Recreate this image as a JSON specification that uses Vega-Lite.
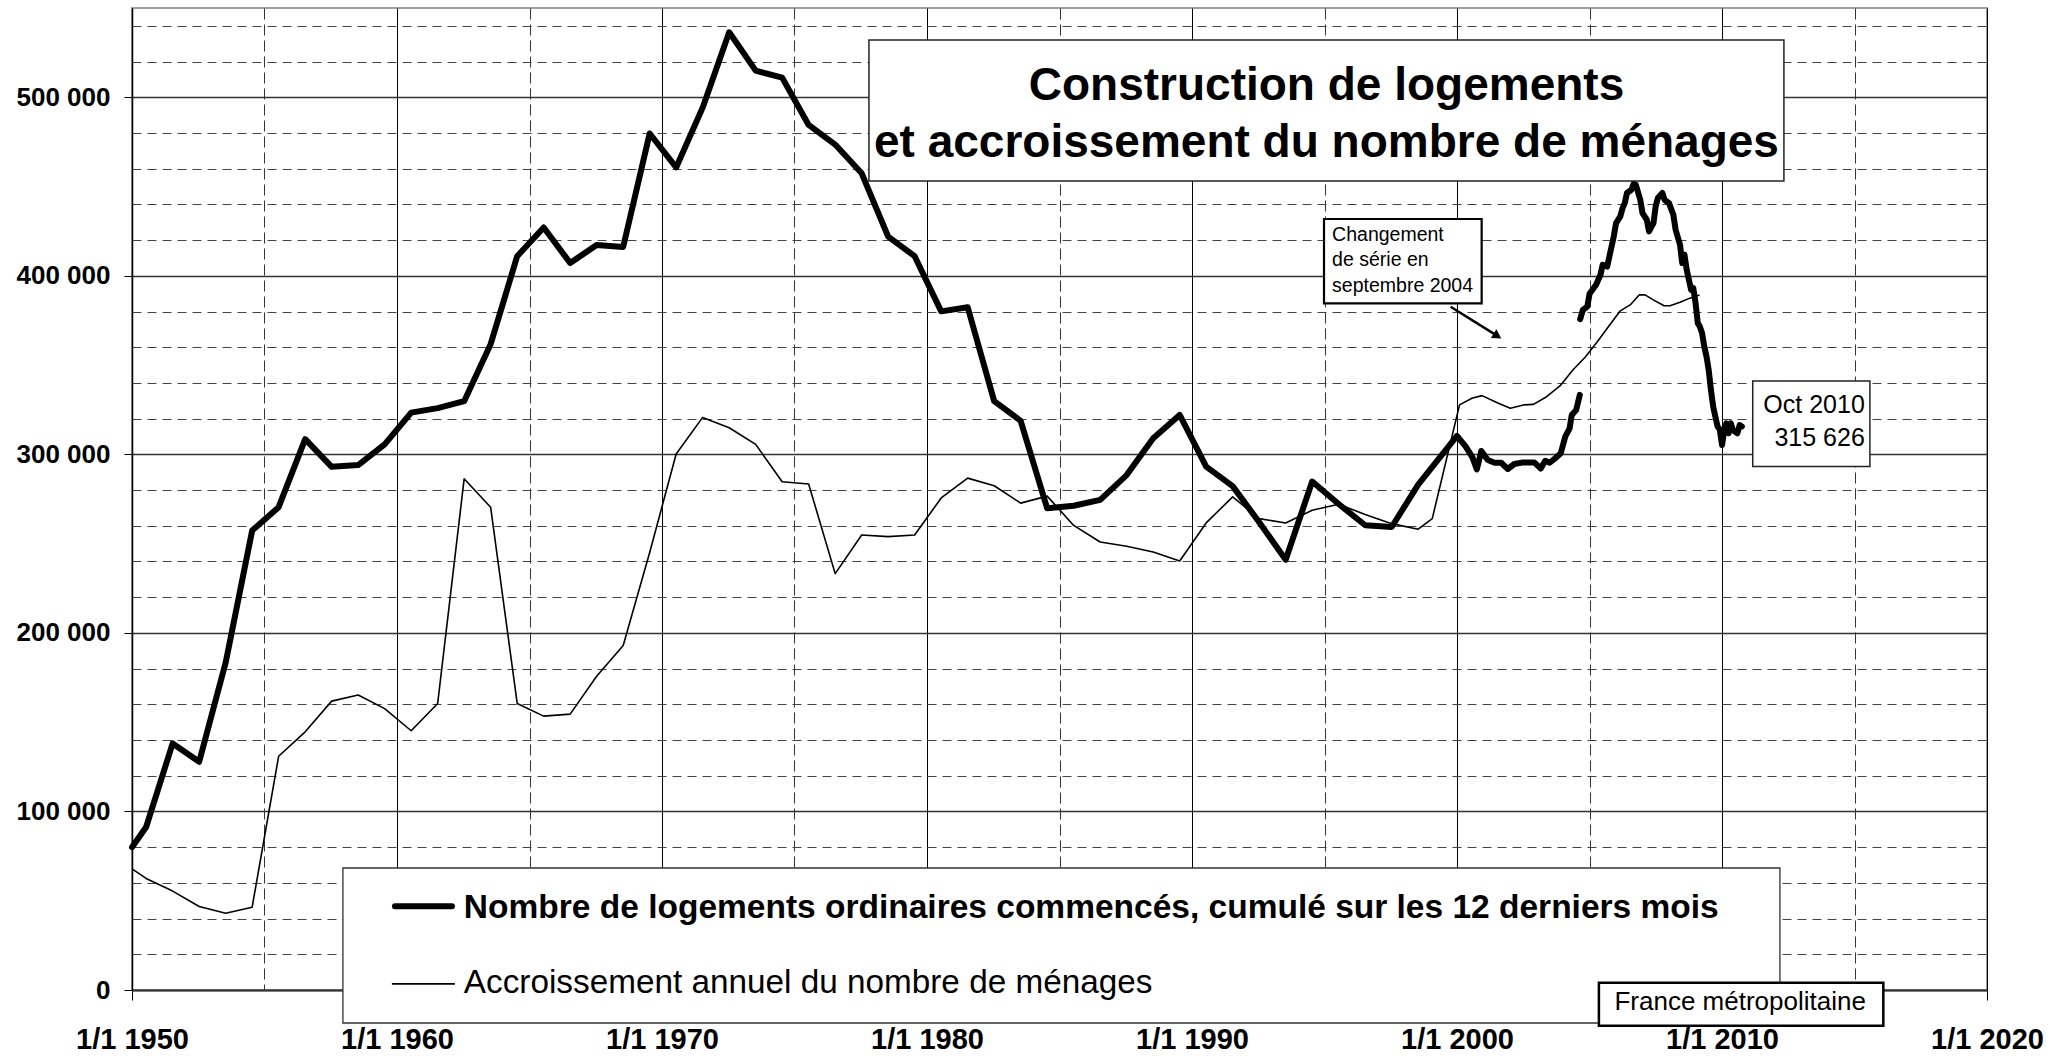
{
  "$schema": "https://vega.github.io/schema/vega-lite/v6.json",
  "width": 1855,
  "height": 982,
  "autosize": {"type": "none"},
  "padding": {"left": 132, "top": 8, "right": 80, "bottom": 66},
  "background": "white",
  "config": {
    "font": "Liberation Sans",
    "view": {"stroke": "#a0a0a0", "strokeWidth": 2},
    "axis": {"title": null, "labelOverlap": false, "labelFlush": false, "labelBound": false}
  },
  "datasets": {
    "menages": [
      {"date": "1950-01-01", "valeur": 67800},
      {"date": "1950-07-15", "valeur": 62500},
      {"date": "1951-07-15", "valeur": 55400},
      {"date": "1952-07-15", "valeur": 46800},
      {"date": "1953-07-15", "valeur": 43000},
      {"date": "1954-07-15", "valeur": 46400},
      {"date": "1955-07-15", "valeur": 130900},
      {"date": "1956-07-15", "valeur": 144600},
      {"date": "1957-07-15", "valeur": 161800},
      {"date": "1958-07-15", "valeur": 165200},
      {"date": "1959-07-15", "valeur": 157600},
      {"date": "1960-07-15", "valeur": 145200},
      {"date": "1961-07-15", "valeur": 160500},
      {"date": "1962-07-15", "valeur": 286300},
      {"date": "1963-07-15", "valeur": 270400},
      {"date": "1964-07-15", "valeur": 160500},
      {"date": "1965-07-15", "valeur": 153400},
      {"date": "1966-07-15", "valeur": 154500},
      {"date": "1967-07-15", "valeur": 175700},
      {"date": "1968-07-15", "valeur": 192900},
      {"date": "1969-07-15", "valeur": 245000},
      {"date": "1970-07-15", "valeur": 300200},
      {"date": "1971-07-15", "valeur": 320700},
      {"date": "1972-07-15", "valeur": 314900},
      {"date": "1973-07-15", "valeur": 305600},
      {"date": "1974-07-15", "valeur": 284700},
      {"date": "1975-07-15", "valeur": 283400},
      {"date": "1976-07-15", "valeur": 233200},
      {"date": "1977-07-15", "valeur": 254800},
      {"date": "1978-07-15", "valeur": 253900},
      {"date": "1979-07-15", "valeur": 254800},
      {"date": "1980-07-15", "valeur": 275600},
      {"date": "1981-07-15", "valeur": 286700},
      {"date": "1982-07-15", "valeur": 282400},
      {"date": "1983-07-15", "valeur": 272700},
      {"date": "1984-07-15", "valeur": 276600},
      {"date": "1985-07-15", "valeur": 260200},
      {"date": "1986-07-15", "valeur": 250900},
      {"date": "1987-07-15", "valeur": 248500},
      {"date": "1988-07-15", "valeur": 245300},
      {"date": "1989-07-15", "valeur": 240300},
      {"date": "1990-07-15", "valeur": 261600},
      {"date": "1991-07-15", "valeur": 276200},
      {"date": "1992-07-15", "valeur": 264000},
      {"date": "1993-07-15", "valeur": 261600},
      {"date": "1994-07-15", "valeur": 268700},
      {"date": "1995-07-15", "valeur": 272100},
      {"date": "1996-07-15", "valeur": 266300},
      {"date": "1997-07-15", "valeur": 261200},
      {"date": "1998-07-15", "valeur": 258100},
      {"date": "1999-01-25", "valeur": 264000},
      {"date": "2000-02-05", "valeur": 327700},
      {"date": "2000-07-25", "valeur": 331400},
      {"date": "2000-12-10", "valeur": 332900},
      {"date": "2001-07-25", "valeur": 328600},
      {"date": "2002-01-05", "valeur": 325800},
      {"date": "2002-07-05", "valeur": 327700},
      {"date": "2002-11-20", "valeur": 328000},
      {"date": "2003-05-20", "valeur": 332300},
      {"date": "2003-11-20", "valeur": 338300},
      {"date": "2004-05-25", "valeur": 347700},
      {"date": "2004-11-01", "valeur": 354400},
      {"date": "2005-04-10", "valeur": 362600},
      {"date": "2005-09-20", "valeur": 371600},
      {"date": "2006-03-01", "valeur": 380400},
      {"date": "2006-07-15", "valeur": 383700},
      {"date": "2006-11-15", "valeur": 389300},
      {"date": "2007-02-05", "valeur": 389300},
      {"date": "2007-05-30", "valeur": 386500},
      {"date": "2007-10-25", "valeur": 383200},
      {"date": "2008-01-15", "valeur": 383200},
      {"date": "2008-06-01", "valeur": 385200},
      {"date": "2008-10-15", "valeur": 387500},
      {"date": "2009-02-25", "valeur": 389300}
    ],
    "logements": [
      {"date": "1950-01-01", "serie": "ancienne", "valeur": 80000},
      {"date": "1950-07-15", "serie": "ancienne", "valeur": 91300},
      {"date": "1951-07-15", "serie": "ancienne", "valeur": 138100},
      {"date": "1952-07-15", "serie": "ancienne", "valeur": 127800},
      {"date": "1953-07-15", "serie": "ancienne", "valeur": 183400},
      {"date": "1954-07-15", "serie": "ancienne", "valeur": 257300},
      {"date": "1955-07-15", "serie": "ancienne", "valeur": 270400},
      {"date": "1956-07-15", "serie": "ancienne", "valeur": 308500},
      {"date": "1957-07-15", "serie": "ancienne", "valeur": 293000},
      {"date": "1958-07-15", "serie": "ancienne", "valeur": 294000},
      {"date": "1959-07-15", "serie": "ancienne", "valeur": 305600},
      {"date": "1960-07-15", "serie": "ancienne", "valeur": 323400},
      {"date": "1961-07-15", "serie": "ancienne", "valeur": 325900},
      {"date": "1962-07-15", "serie": "ancienne", "valeur": 329800},
      {"date": "1963-07-15", "serie": "ancienne", "valeur": 361700},
      {"date": "1964-07-15", "serie": "ancienne", "valeur": 411000},
      {"date": "1965-07-15", "serie": "ancienne", "valeur": 427100},
      {"date": "1966-07-15", "serie": "ancienne", "valeur": 407200},
      {"date": "1967-07-15", "serie": "ancienne", "valeur": 417200},
      {"date": "1968-07-15", "serie": "ancienne", "valeur": 416200},
      {"date": "1969-07-15", "serie": "ancienne", "valeur": 479700},
      {"date": "1970-07-15", "serie": "ancienne", "valeur": 460700},
      {"date": "1971-07-15", "serie": "ancienne", "valeur": 494200},
      {"date": "1972-07-15", "serie": "ancienne", "valeur": 536400},
      {"date": "1973-07-15", "serie": "ancienne", "valeur": 514900},
      {"date": "1974-07-15", "serie": "ancienne", "valeur": 511000},
      {"date": "1975-07-15", "serie": "ancienne", "valeur": 484500},
      {"date": "1976-07-15", "serie": "ancienne", "valeur": 473500},
      {"date": "1977-07-15", "serie": "ancienne", "valeur": 457400},
      {"date": "1978-07-15", "serie": "ancienne", "valeur": 422000},
      {"date": "1979-07-15", "serie": "ancienne", "valeur": 411000},
      {"date": "1980-07-15", "serie": "ancienne", "valeur": 380100},
      {"date": "1981-07-15", "serie": "ancienne", "valeur": 382400},
      {"date": "1982-07-15", "serie": "ancienne", "valeur": 329800},
      {"date": "1983-07-15", "serie": "ancienne", "valeur": 318800},
      {"date": "1984-07-15", "serie": "ancienne", "valeur": 269800},
      {"date": "1985-07-15", "serie": "ancienne", "valeur": 271200},
      {"date": "1986-07-15", "serie": "ancienne", "valeur": 274500},
      {"date": "1987-07-15", "serie": "ancienne", "valeur": 288400},
      {"date": "1988-07-15", "serie": "ancienne", "valeur": 309000},
      {"date": "1989-07-15", "serie": "ancienne", "valeur": 322100},
      {"date": "1990-07-15", "serie": "ancienne", "valeur": 293100},
      {"date": "1991-07-15", "serie": "ancienne", "valeur": 282200},
      {"date": "1992-07-15", "serie": "ancienne", "valeur": 262000},
      {"date": "1993-07-15", "serie": "ancienne", "valeur": 241000},
      {"date": "1994-07-15", "serie": "ancienne", "valeur": 284800},
      {"date": "1995-07-15", "serie": "ancienne", "valeur": 272200},
      {"date": "1996-07-15", "serie": "ancienne", "valeur": 260300},
      {"date": "1997-07-15", "serie": "ancienne", "valeur": 259300},
      {"date": "1998-07-15", "serie": "ancienne", "valeur": 283000},
      {"date": "2000-01-01", "serie": "ancienne", "valeur": 310300},
      {"date": "2000-05-01", "serie": "ancienne", "valeur": 304300},
      {"date": "2000-08-01", "serie": "ancienne", "valeur": 298300},
      {"date": "2000-10-01", "serie": "ancienne", "valeur": 291600},
      {"date": "2000-12-01", "serie": "ancienne", "valeur": 301900},
      {"date": "2001-03-01", "serie": "ancienne", "valeur": 296800},
      {"date": "2001-06-01", "serie": "ancienne", "valeur": 295300},
      {"date": "2001-09-01", "serie": "ancienne", "valeur": 295300},
      {"date": "2001-12-01", "serie": "ancienne", "valeur": 291800},
      {"date": "2002-03-01", "serie": "ancienne", "valeur": 294600},
      {"date": "2002-07-01", "serie": "ancienne", "valeur": 295500},
      {"date": "2002-12-01", "serie": "ancienne", "valeur": 295500},
      {"date": "2003-03-01", "serie": "ancienne", "valeur": 292100},
      {"date": "2003-05-01", "serie": "ancienne", "valeur": 296400},
      {"date": "2003-07-01", "serie": "ancienne", "valeur": 295300},
      {"date": "2003-10-01", "serie": "ancienne", "valeur": 298300},
      {"date": "2003-12-01", "serie": "ancienne", "valeur": 300600},
      {"date": "2004-02-01", "serie": "ancienne", "valeur": 309900},
      {"date": "2004-04-01", "serie": "ancienne", "valeur": 314600},
      {"date": "2004-05-01", "serie": "ancienne", "valeur": 322100},
      {"date": "2004-07-01", "serie": "ancienne", "valeur": 324900},
      {"date": "2004-08-20", "serie": "ancienne", "valeur": 333300},
      {"date": "2004-08-25", "serie": "nouvelle", "valeur": 375700},
      {"date": "2004-10-01", "serie": "nouvelle", "valeur": 380900},
      {"date": "2004-12-01", "serie": "nouvelle", "valeur": 382800},
      {"date": "2005-01-01", "serie": "nouvelle", "valeur": 389900},
      {"date": "2005-04-01", "serie": "nouvelle", "valeur": 395000},
      {"date": "2005-06-01", "serie": "nouvelle", "valeur": 400600},
      {"date": "2005-07-01", "serie": "nouvelle", "valeur": 406200},
      {"date": "2005-09-01", "serie": "nouvelle", "valeur": 405200},
      {"date": "2005-10-01", "serie": "nouvelle", "valeur": 410800},
      {"date": "2005-12-01", "serie": "nouvelle", "valeur": 422100},
      {"date": "2006-01-01", "serie": "nouvelle", "valeur": 429500},
      {"date": "2006-03-01", "serie": "nouvelle", "valeur": 433300},
      {"date": "2006-04-01", "serie": "nouvelle", "valeur": 437900},
      {"date": "2006-05-01", "serie": "nouvelle", "valeur": 440700},
      {"date": "2006-06-01", "serie": "nouvelle", "valeur": 446400},
      {"date": "2006-08-01", "serie": "nouvelle", "valeur": 448200},
      {"date": "2006-09-01", "serie": "nouvelle", "valeur": 451600},
      {"date": "2006-10-01", "serie": "nouvelle", "valeur": 451000},
      {"date": "2006-12-01", "serie": "nouvelle", "valeur": 442600},
      {"date": "2007-01-01", "serie": "nouvelle", "valeur": 435100},
      {"date": "2007-03-01", "serie": "nouvelle", "valeur": 431400},
      {"date": "2007-04-01", "serie": "nouvelle", "valeur": 424900},
      {"date": "2007-06-01", "serie": "nouvelle", "valeur": 429500},
      {"date": "2007-07-01", "serie": "nouvelle", "valeur": 438900},
      {"date": "2007-08-01", "serie": "nouvelle", "valeur": 443600},
      {"date": "2007-10-01", "serie": "nouvelle", "valeur": 446400},
      {"date": "2007-11-01", "serie": "nouvelle", "valeur": 442600},
      {"date": "2008-01-01", "serie": "nouvelle", "valeur": 440700},
      {"date": "2008-03-01", "serie": "nouvelle", "valeur": 434200},
      {"date": "2008-04-01", "serie": "nouvelle", "valeur": 425800},
      {"date": "2008-06-01", "serie": "nouvelle", "valeur": 417400},
      {"date": "2008-07-01", "serie": "nouvelle", "valeur": 407100},
      {"date": "2008-08-01", "serie": "nouvelle", "valeur": 411800},
      {"date": "2008-09-01", "serie": "nouvelle", "valeur": 403400},
      {"date": "2008-11-01", "serie": "nouvelle", "valeur": 392100},
      {"date": "2008-12-01", "serie": "nouvelle", "valeur": 393100},
      {"date": "2009-01-01", "serie": "nouvelle", "valeur": 384700},
      {"date": "2009-02-01", "serie": "nouvelle", "valeur": 373500},
      {"date": "2009-03-01", "serie": "nouvelle", "valeur": 371600},
      {"date": "2009-04-01", "serie": "nouvelle", "valeur": 367900},
      {"date": "2009-05-01", "serie": "nouvelle", "valeur": 360400},
      {"date": "2009-06-01", "serie": "nouvelle", "valeur": 354800},
      {"date": "2009-07-01", "serie": "nouvelle", "valeur": 347300},
      {"date": "2009-08-01", "serie": "nouvelle", "valeur": 336100},
      {"date": "2009-09-01", "serie": "nouvelle", "valeur": 326700},
      {"date": "2009-10-01", "serie": "nouvelle", "valeur": 321100},
      {"date": "2009-11-01", "serie": "nouvelle", "valeur": 315500},
      {"date": "2009-12-01", "serie": "nouvelle", "valeur": 314000},
      {"date": "2010-01-01", "serie": "nouvelle", "valeur": 305200},
      {"date": "2010-02-01", "serie": "nouvelle", "valeur": 313600},
      {"date": "2010-03-01", "serie": "nouvelle", "valeur": 317400},
      {"date": "2010-04-01", "serie": "nouvelle", "valeur": 311800},
      {"date": "2010-05-01", "serie": "nouvelle", "valeur": 317400},
      {"date": "2010-06-01", "serie": "nouvelle", "valeur": 313600},
      {"date": "2010-08-01", "serie": "nouvelle", "valeur": 311800},
      {"date": "2010-09-01", "serie": "nouvelle", "valeur": 316400},
      {"date": "2010-10-01", "serie": "nouvelle", "valeur": 315626}
    ]
  },
  "layer": [
    {
      "encoding": {
        "x": {
          "field": "date",
          "type": "temporal",
          "scale": {"domain": [{"year": 1950, "month": 1, "date": 1}, {"year": 2020, "month": 1, "date": 1}], "nice": false},
          "axis": {
            "values": [{"year": 1950}, {"year": 1955}, {"year": 1960}, {"year": 1965}, {"year": 1970}, {"year": 1975}, {"year": 1980}, {"year": 1985}, {"year": 1990}, {"year": 1995}, {"year": 2000}, {"year": 2005}, {"year": 2010}, {"year": 2015}, {"year": 2020}],
            "tickCount": 100,
            "labelExpr": "year(datum.value) % 10 === 0 ? '1/1 ' + year(datum.value) : ''",
            "labelFont": "Liberation Sans",
            "labelFontSize": 29,
            "labelFontWeight": "bold",
            "labelColor": "black",
            "labelPadding": 25,
            "labelFlush": false,
            "labelOverlap": false,
            "tickSize": 10,
            "tickColor": "black",
            "tickWidth": 1,
            "tickOpacity": {"condition": {"test": "year(datum.value) % 10 !== 0", "value": 0}, "value": 1},
            "domainColor": "#333333",
            "domainWidth": 2,
            "grid": true,
            "gridColor": {"condition": {"test": "year(datum.value) % 10 !== 0", "value": "#333333"}, "value": "#000000"},
            "gridDash": {"condition": {"test": "year(datum.value) % 10 !== 0", "value": [11, 5]}, "value": []},
            "gridWidth": 1,
            "gridOpacity": 1
          }
        },
        "y": {
          "field": "valeur",
          "type": "quantitative",
          "scale": {"domain": [0, 550000], "nice": false, "zero": false},
          "axis": {
            "values": [0, 20000, 40000, 60000, 80000, 100000, 120000, 140000, 160000, 180000, 200000, 220000, 240000, 260000, 280000, 300000, 320000, 340000, 360000, 380000, 400000, 420000, 440000, 460000, 480000, 500000, 520000, 540000],
            "tickCount": 100,
            "labelExpr": "datum.value % 100000 === 0 ? replace(format(datum.value, ',d'), ',', ' ') : ''",
            "labelFont": "Liberation Sans",
            "labelFontSize": 26,
            "labelFontWeight": "bold",
            "labelColor": "black",
            "labelPadding": 14,
            "labelOverlap": false,
            "tickSize": 8,
            "tickColor": "black",
            "tickOpacity": {"condition": {"test": "datum.value % 100000 !== 0", "value": 0}, "value": 1},
            "domainColor": "#000000",
            "domainWidth": 1.5,
            "grid": true,
            "gridColor": {"condition": {"test": "datum.value % 100000 !== 0", "value": "#444444"}, "value": "#333333"},
            "gridDash": {"condition": {"test": "datum.value % 100000 !== 0", "value": [9, 6]}, "value": []},
            "gridWidth": {"condition": {"test": "datum.value % 100000 !== 0", "value": 1.2}, "value": 1.3},
            "gridOpacity": 1
          }
        }
      },
      "layer": [
        {
          "data": {"name": "menages"},
          "mark": {"type": "line", "color": "black", "strokeWidth": 1.6, "strokeJoin": "round"}
        },
        {
          "data": {"name": "logements"},
          "mark": {"type": "line", "color": "black", "strokeWidth": 6, "strokeJoin": "round", "strokeCap": "round"},
          "encoding": {"detail": {"field": "serie"}}
        }
      ]
    },
    {
      "data": {"values": [{}]},
      "mark": {"type": "rect", "fill": "white", "stroke": "#222222", "strokeWidth": 1.5},
      "encoding": {
        "x": {"datum": {"year": 1977, "month": 10, "date": 23}, "type": "temporal"},
        "x2": {"datum": {"year": 2012, "month": 5, "date": 3}},
        "y": {"datum": 532076, "type": "quantitative"},
        "y2": {"datum": 453105}
      }
    },
    {
      "data": {"values": [{}]},
      "mark": {"type": "text", "text": ["Construction de logements", "et accroissement du nombre de ménages"], "font": "Liberation Sans", "fontSize": 46, "fontWeight": "bold", "align": "center", "baseline": "alphabetic", "lineHeight": 57, "color": "black"},
      "encoding": {
        "x": {"datum": {"year": 1995, "month": 1, "date": 28}, "type": "temporal"},
        "y": {"datum": 498527, "type": "quantitative"}
      }
    },
    {
      "data": {"values": [{}]},
      "mark": {"type": "rect", "fill": "white", "stroke": "#000000", "strokeWidth": 2.2},
      "encoding": {
        "x": {"datum": {"year": 1994, "month": 12, "date": 25}, "type": "temporal"},
        "x2": {"datum": {"year": 2000, "month": 12, "date": 6}},
        "y": {"datum": 431822, "type": "quantitative"},
        "y2": {"datum": 384607}
      }
    },
    {
      "data": {"values": [{}]},
      "mark": {"type": "text", "text": ["Changement", "de série en", "septembre 2004"], "font": "Liberation Sans", "fontSize": 19.5, "align": "left", "baseline": "alphabetic", "lineHeight": 25.5, "color": "black"},
      "encoding": {
        "x": {"datum": {"year": 1995, "month": 4, "date": 16}, "type": "temporal"},
        "y": {"datum": 419668, "type": "quantitative"}
      }
    },
    {
      "data": {"values": [{}]},
      "mark": {"type": "rule", "color": "black", "strokeWidth": 2.5},
      "encoding": {
        "x": {"datum": {"year": 1999, "month": 10, "date": 5}, "type": "temporal"},
        "x2": {"datum": {"year": 2001, "month": 7, "date": 4}},
        "y": {"datum": 382703, "type": "quantitative"},
        "y2": {"datum": 366516}
      }
    },
    {
      "data": {"values": [{}]},
      "mark": {"type": "point", "shape": "triangle-right", "filled": true, "color": "black", "opacity": 1, "size": 110, "angle": 32},
      "encoding": {
        "x": {"datum": {"year": 2001, "month": 7, "date": 12}, "type": "temporal"},
        "y": {"datum": 366292, "type": "quantitative"}
      }
    },
    {
      "data": {"values": [{}]},
      "mark": {"type": "rect", "fill": "white", "stroke": "#222222", "strokeWidth": 1.5},
      "encoding": {
        "x": {"datum": {"year": 2011, "month": 2, "date": 28}, "type": "temporal"},
        "x2": {"datum": {"year": 2015, "month": 8, "date": 1}},
        "y": {"datum": 341089, "type": "quantitative"},
        "y2": {"datum": 293146}
      }
    },
    {
      "data": {"values": [{}]},
      "mark": {"type": "text", "text": ["Oct 2010", "315 626"], "font": "Liberation Sans", "fontSize": 25, "align": "right", "baseline": "alphabetic", "lineHeight": 33, "color": "black"},
      "encoding": {
        "x": {"datum": {"year": 2015, "month": 5, "date": 23}, "type": "temporal"},
        "y": {"datum": 323166, "type": "quantitative"}
      }
    },
    {
      "data": {"values": [{}]},
      "mark": {"type": "rect", "fill": "white", "stroke": "#333333", "strokeWidth": 1.3},
      "encoding": {
        "x": {"datum": {"year": 1957, "month": 12, "date": 17}, "type": "temporal"},
        "x2": {"datum": {"year": 2012, "month": 3, "date": 9}},
        "y": {"datum": 68330, "type": "quantitative"},
        "y2": {"datum": -18483}
      }
    },
    {
      "data": {"values": [{}]},
      "mark": {"type": "rule", "color": "black", "strokeWidth": 6, "strokeCap": "round"},
      "encoding": {
        "x": {"datum": {"year": 1959, "month": 12, "date": 4}, "type": "temporal"},
        "x2": {"datum": {"year": 1962, "month": 1, "date": 28}},
        "y": {"datum": 46879, "type": "quantitative"}
      }
    },
    {
      "data": {"values": [{}]},
      "mark": {"type": "rule", "color": "black", "strokeWidth": 1.6},
      "encoding": {
        "x": {"datum": {"year": 1959, "month": 10, "date": 23}, "type": "temporal"},
        "x2": {"datum": {"year": 1962, "month": 3, "date": 9}},
        "y": {"datum": 3416, "type": "quantitative"}
      }
    },
    {
      "data": {"values": [{}]},
      "mark": {"type": "text", "text": "Nombre de logements ordinaires commencés, cumulé sur les 12 derniers mois", "font": "Liberation Sans", "fontSize": 33.5, "fontWeight": "bold", "align": "left", "baseline": "alphabetic", "color": "black"},
      "encoding": {
        "x": {"datum": {"year": 1962, "month": 7, "date": 11}, "type": "temporal"},
        "y": {"datum": 40158, "type": "quantitative"}
      }
    },
    {
      "data": {"values": [{}]},
      "mark": {"type": "text", "text": "Accroissement annuel du nombre de ménages", "font": "Liberation Sans", "fontSize": 33.3, "align": "left", "baseline": "alphabetic", "color": "black"},
      "encoding": {
        "x": {"datum": {"year": 1962, "month": 7, "date": 11}, "type": "temporal"},
        "y": {"datum": -1960, "type": "quantitative"}
      }
    },
    {
      "data": {"values": [{}]},
      "mark": {"type": "rect", "fill": "white", "stroke": "#000000", "strokeWidth": 2.5},
      "encoding": {
        "x": {"datum": {"year": 2005, "month": 5, "date": 10}, "type": "temporal"},
        "x2": {"datum": {"year": 2016, "month": 2, "date": 2}},
        "y": {"datum": 4089, "type": "quantitative"},
        "y2": {"datum": -19995}
      }
    },
    {
      "data": {"values": [{}]},
      "mark": {"type": "text", "text": "France métropolitaine", "font": "Liberation Sans", "fontSize": 26, "align": "center", "baseline": "alphabetic", "color": "black"},
      "encoding": {
        "x": {"datum": {"year": 2010, "month": 9, "date": 8}, "type": "temporal"},
        "y": {"datum": -11202, "type": "quantitative"}
      }
    }
  ]
}
